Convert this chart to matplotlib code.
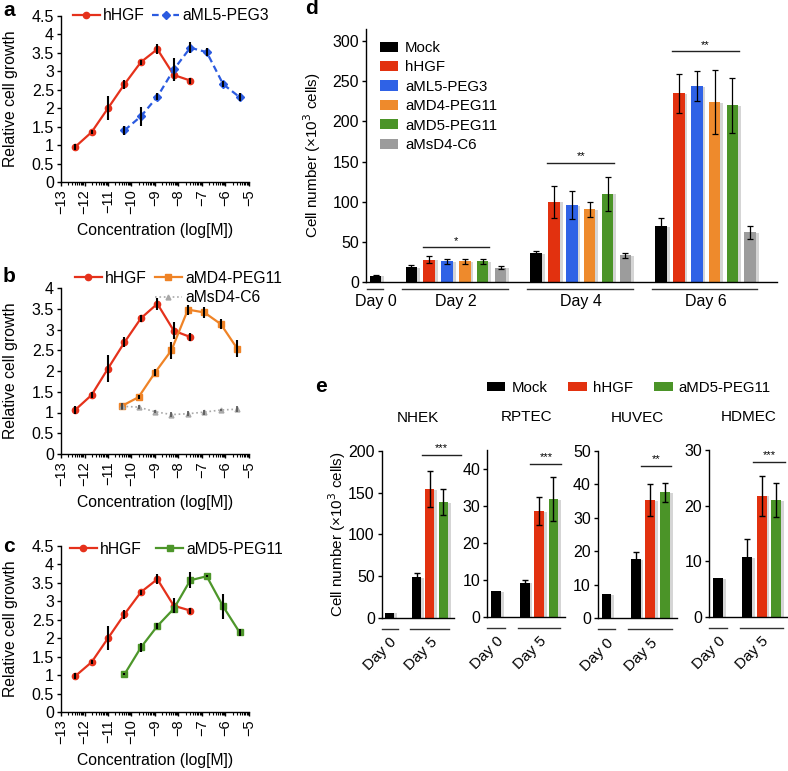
"""Dose-response curves (a-c) and cell counts (d, e)."""
import numpy as np
import matplotlib as mpl
import matplotlib.pyplot as plt
import matplotlib.patheffects as pe
import matplotlib.transforms as mtransforms
from matplotlib.lines import Line2D
from matplotlib.patches import Patch

mpl.rcParams['font.family'] = ['Liberation Sans', 'DejaVu Sans']
mpl.rcParams['axes.spines.top'] = False
mpl.rcParams['axes.spines.right'] = False
mpl.rcParams['axes.linewidth'] = 1.0
mpl.rcParams['xtick.major.width'] = 1.0
mpl.rcParams['ytick.major.width'] = 1.0

RED = '#e5311b'; BLUE = '#2b5be0'; ORANGE = '#ef8326'; GREEN = '#4d962a'; GREY = '#a8a8a8'
BAR_COLORS = ['#000000', '#e2310f', '#2f62e6', '#ee8a2c', '#4b9428', '#9c9c9c']

# ---- data: panels a-c (x = log[M]) ----
hgf_x = [-12.4, -11.7, -11.0, -10.3, -9.6, -8.9, -8.2, -7.5]
hgf_a = [0.95, 1.35, 2.0, 2.65, 3.25, 3.6, 2.9, 2.75]
hgf_a_err = [0.08, 0.06, 0.33, 0.12, 0.07, 0.13, 0.15, 0.08]
aml5_x = [-10.3, -9.6, -8.9, -8.2, -7.5, -6.8, -6.1, -5.4]
aml5_y = [1.4, 1.78, 2.31, 3.05, 3.64, 3.52, 2.65, 2.3]
aml5_err = [0.12, 0.25, 0.1, 0.3, 0.15, 0.1, 0.08, 0.1]

hgf_b = [1.06, 1.42, 2.06, 2.69, 3.27, 3.62, 2.97, 2.82]
hgf_b_err = [0.1, 0.07, 0.33, 0.12, 0.08, 0.15, 0.2, 0.1]
amd4_x = [-10.4, -9.7, -9.0, -8.3, -7.6, -6.9, -6.2, -5.5]
amd4_y = [1.16, 1.37, 1.96, 2.5, 3.48, 3.41, 3.13, 2.54]
amd4_err = [0.07, 0.05, 0.08, 0.2, 0.12, 0.13, 0.12, 0.2]
amsd4_y = [1.15, 1.13, 1.02, 0.95, 0.97, 1.01, 1.06, 1.08]
amsd4_err = [0.08, 0.05, 0.03, 0.07, 0.06, 0.06, 0.03, 0.07]

hgf_c = [0.97, 1.35, 2.0, 2.65, 3.25, 3.6, 2.88, 2.75]
hgf_c_err = [0.08, 0.06, 0.33, 0.12, 0.07, 0.13, 0.2, 0.08]
amd5_x = [-10.3, -9.6, -8.9, -8.2, -7.5, -6.8, -6.1, -5.4]
amd5_y = [1.02, 1.75, 2.33, 2.8, 3.57, 3.68, 2.86, 2.16]
amd5_err = [0.03, 0.12, 0.08, 0.12, 0.22, 0.03, 0.35, 0.1]

# ---- data: panel d ----
d_series = ['Mock', 'hHGF', 'aML5-PEG3', 'aMD4-PEG11', 'aMD5-PEG11', 'aMsD4-C6']
d_days = ['Day 0', 'Day 2', 'Day 4', 'Day 6']
d_vals = [[7.9],
          [18.7, 28, 25.7, 26, 26, 17.8],
          [35.7, 100, 95.9, 90.5, 110, 33.2],
          [69.7, 235, 244, 224, 220, 61.8]]
d_errs = [[1.0],
          [3, 4, 3, 3, 3, 2],
          [3.5, 20, 17.5, 9.5, 21, 3.5],
          [10.5, 24, 18.5, 40, 34, 8]]
d_sig = ['', '*', '**', '**']
d_sig_y = [0, 43, 148.5, 287]

# ---- data: panel e ----
e_cells = ['NHEK', 'RPTEC', 'HUVEC', 'HDMEC']
e_series = ['Mock', 'hHGF', 'aMD5-PEG11']
e_day0 = [6.0, 6.9, 7.2, 6.9]
e_day5 = [[48.4, 154.4, 138.8], [9.2, 28.5, 31.7], [17.7, 35.4, 37.6], [10.7, 21.8, 21.0]]
e_day5_err = [[5, 22, 16], [0.7, 3.8, 6], [2, 4.7, 2.8], [3.2, 3.6, 3.0]]
e_sig = ['***', '***', '**', '***']
e_sig_y = [195, 41.3, 45.5, 27.9]
e_sig_span = [(2.41, 5.34), (2.39, 4.55), (2.33, 4.42), (2.43, 4.57)]
e_ylim = [200, 45, 50, 30]
e_yticks = [[0, 50, 100, 150, 200], [0, 10, 20, 30, 40], [0, 10, 20, 30, 40, 50], [0, 10, 20, 30]]

W, H = 788, 771
fig = plt.figure(figsize=(W / 100, H / 100), dpi=100)


def box(l, t, r, b):
    return [l / W, 1 - b / H, (r - l) / W, (b - t) / H]


def figpt(x, y):
    return (x / W, 1 - y / H)


SHADOW = [pe.SimplePatchShadow(offset=(2, -0.5), shadow_rgbFace='#888888', alpha=0.35), pe.Normal()]
FS = 11.3   # text size in panels a-c

# ================= panels a-c =================
minor = [n + np.log10(k) for n in range(-13, -5) for k in range(2, 10)]


def curve_axes(rect, ymax, yticks, yticklabels):
    ax = fig.add_axes(rect)
    ax.set_xlim(-13, -5)
    ax.set_ylim(0, ymax)
    ax.set_xticks(range(-13, -4))
    ax.set_xticklabels([f'\u2212{abs(v)}' for v in range(-13, -4)], rotation=90)
    ax.set_xticks(minor, minor=True)
    ax.set_yticks(yticks)
    ax.set_yticklabels(yticklabels)
    ax.tick_params(axis='both', length=3, pad=2)
    ax.tick_params(axis='y', labelsize=11.5)
    ax.tick_params(axis='x', labelsize=10.5)
    ax.tick_params(axis='x', which='minor', length=2, width=0.8)
    ax.set_ylabel('Relative cell growth', fontsize=FS)
    ax.yaxis.set_label_coords(-0.23, 0.5)
    ax.set_xlabel('Concentration (log[M])', fontsize=FS)
    ax.xaxis.set_label_coords(0.5, -0.25)
    return ax


def series(ax, x, y, err, color, marker, ls='-', ms=4.5, lw=1.6):
    ax.plot(x, y, color=color, ls=ls, lw=lw, marker=marker, ms=ms, mec=color, mfc=color, zorder=2)
    ax.errorbar(x, y, yerr=err, fmt='none', ecolor='black', elinewidth=1.5, capsize=0, zorder=3)


def top_legend(ax, handles, labels, anchor, colsp, ncol=2):
    return ax.legend(handles, labels, ncol=ncol, loc='center left', bbox_to_anchor=figpt(*anchor),
                     bbox_transform=fig.transFigure, frameon=False, fontsize=FS, borderpad=0,
                     borderaxespad=0, handlelength=1.72, handletextpad=0.2, columnspacing=colsp)


ticks45 = [0, 0.5, 1, 1.5, 2, 2.5, 3, 3.5, 4, 4.5]
labels45 = ['0', '0.5', '1', '1.5', '2', '2.5', '3', '3.5', '4', '4.5']

# a
ax = curve_axes(box(61, 16, 249, 182), 4.5, ticks45, labels45)
series(ax, hgf_x, hgf_a, hgf_a_err, RED, 'o')
series(ax, aml5_x, aml5_y, aml5_err, BLUE, 'D', ls=(0, (3, 1.8)), ms=3.8)
h = [Line2D([], [], color=RED, marker='o', ms=4.5, lw=1.6),
     Line2D([], [], color=BLUE, marker='D', ms=3.8, lw=1.6, ls=(0, (3, 1.8)))]
top_legend(ax, h, ['hHGF', 'aML5-PEG3'], (73, 16), 0.45)
fig.text(*figpt(9, 11), 'a', fontsize=15, fontweight='bold', ha='center', va='center')

# b
ax = curve_axes(box(61, 288, 249, 454), 4.0, ticks45[:-1], labels45[:-1])
series(ax, hgf_x, hgf_b, hgf_b_err, RED, 'o')
series(ax, amd4_x, amd4_y, amd4_err, ORANGE, 's', ms=4)
ax.plot(amd4_x, amsd4_y, color=GREY, ls=':', lw=1.2, marker='^', ms=3.5, zorder=2)
ax.errorbar(amd4_x, amsd4_y, yerr=amsd4_err, fmt='none', ecolor='#555555', elinewidth=1.2, capsize=0, zorder=3)
h1 = [Line2D([], [], color=RED, marker='o', ms=4.5, lw=1.6),
      Line2D([], [], color=ORANGE, marker='s', ms=4, lw=1.6)]
leg = top_legend(ax, h1, ['hHGF', 'aMD4-PEG11'], (75, 278), 0.5)
ax.add_artist(leg)
h2 = [Line2D([], [], color=GREY, marker='^', ms=3.5, lw=1.2, ls=':')]
top_legend(ax, h2, ['aMsD4-C6'], (155, 298), 0.5, ncol=1)
fig.text(*figpt(9, 276), 'b', fontsize=15, fontweight='bold', ha='center', va='center')

# c
ax = curve_axes(box(61, 546, 249, 712), 4.5, ticks45, labels45)
series(ax, hgf_x, hgf_c, hgf_c_err, RED, 'o')
series(ax, amd5_x, amd5_y, amd5_err, GREEN, 's', ms=4)
h = [Line2D([], [], color=RED, marker='o', ms=4.5, lw=1.6),
     Line2D([], [], color=GREEN, marker='s', ms=4, lw=1.6)]
top_legend(ax, h, ['hHGF', 'aMD5-PEG11'], (70, 549), 0.9)
fig.text(*figpt(9, 547), 'c', fontsize=15, fontweight='bold', ha='center', va='center')

# ================= panel d =================
ax = fig.add_axes(box(366, 29, 777, 282))
starts = [0, 2, 9, 16]
bw = 0.65
for s, vals, errs, day, sig, sy in zip(starts, d_vals, d_errs, d_days, d_sig, d_sig_y):
    x = s + np.arange(len(vals))
    ax.bar(x, vals, width=bw, color=BAR_COLORS[:len(vals)], path_effects=SHADOW, zorder=2)
    ax.errorbar(x, vals, yerr=errs, fmt='none', ecolor='black', elinewidth=0.9, capsize=2,
                capthick=0.9, zorder=3)
    tr = mtransforms.blended_transform_factory(ax.transData, ax.transAxes)
    ax.plot([x[0] - 0.5, x[-1] + 0.4], [-0.028, -0.028], color='#333333', lw=1,
            transform=tr, clip_on=False)
    ax.text(x.mean(), -0.079, day, transform=tr, ha='center', va='center', fontsize=11.5)
    if sig:
        ax.plot([s + 1 - 0.37, s + 4 + 0.37], [sy, sy], color='#222222', lw=1)
        ax.text(s + 2.5, sy + 2, sig, ha='center', va='bottom', fontsize=8)
ax.set_xlim(-0.54, 22.5)
ax.set_ylim(0, 315)
ax.set_yticks(range(0, 301, 50))
ax.tick_params(axis='y', labelsize=11.5, length=3, pad=2)
ax.tick_params(axis='x', bottom=False, labelbottom=False)
ax.set_ylabel('Cell number (\u00d710$^3$ cells)', fontsize=11)
ax.yaxis.set_label_coords(-0.105, 0.5)
hd = [Patch(facecolor=c) for c in BAR_COLORS]
ax.legend(hd, d_series, loc='upper left', bbox_to_anchor=figpt(380, 41), bbox_transform=fig.transFigure,
          frameon=False, fontsize=10.8, borderpad=0, borderaxespad=0, handlelength=1.2,
          handleheight=0.68, handletextpad=0.46, labelspacing=0.36)
fig.text(*figpt(311, 9), 'd', fontsize=15, fontweight='bold', ha='center', va='center')

# ================= panel e =================
e_boxes = [(381.7, 451, 454, 617.7), (487.3, 450, 565, 616.7),
           (597.7, 451, 676.7, 618.3), (709.3, 450, 788, 616.7)]
ebw = 0.68
for i, (cell, b) in enumerate(zip(e_cells, e_boxes)):
    ax = fig.add_axes(box(*b))
    ax.bar([0], [e_day0[i]], width=ebw, color=BAR_COLORS[0], path_effects=SHADOW, zorder=2)
    x5 = 2 + np.arange(3)
    ax.bar(x5, e_day5[i], width=ebw, color=[BAR_COLORS[0], BAR_COLORS[1], BAR_COLORS[4]],
           path_effects=SHADOW, zorder=2)
    ax.errorbar(x5, e_day5[i], yerr=e_day5_err[i], fmt='none', ecolor='black', elinewidth=1,
                capsize=2, capthick=1, zorder=3)
    ax.set_xlim(-0.6, 4.8)
    ax.set_ylim(0, e_ylim[i])
    ax.set_yticks(e_yticks[i])
    ax.tick_params(axis='y', labelsize=11.5, length=3, pad=2)
    ax.tick_params(axis='x', bottom=False, labelbottom=False)
    tr = mtransforms.blended_transform_factory(ax.transData, ax.transAxes)
    ax.plot([-0.6, 0.6], [-0.066, -0.066], color='#333333', lw=1, transform=tr, clip_on=False)
    ax.plot([1.5, 4.45], [-0.066, -0.066], color='#333333', lw=1, transform=tr, clip_on=False)
    ax.text(0, -0.105, 'Day 0', transform=tr, rotation=45, ha='right', va='top',
            rotation_mode='anchor', fontsize=11)
    ax.text(3, -0.105, 'Day 5', transform=tr, rotation=45, ha='right', va='top',
            rotation_mode='anchor', fontsize=11)
    x0, x1 = e_sig_span[i]
    ax.plot([x0, x1], [e_sig_y[i], e_sig_y[i]], color='#222222', lw=1, clip_on=False)
    ax.text((x0 + x1) / 2, e_sig_y[i] + e_ylim[i] * 0.01, e_sig[i], ha='center', va='bottom',
            fontsize=8, clip_on=False)
    ax.text(0.5, 1.2, cell, transform=ax.transAxes, ha='center', va='center', fontsize=11)
    if i == 0:
        ax.set_ylabel('Cell number (\u00d710$^3$ cells)', fontsize=11)
        ax.yaxis.set_label_coords(-0.47, 0.5)
he = [Patch(facecolor=BAR_COLORS[j]) for j in (0, 1, 4)]
fig.legend(he, e_series, ncol=3, loc='center left', bbox_to_anchor=figpt(486.7, 388),
           frameon=False, fontsize=10.8, borderpad=0, borderaxespad=0, handlelength=1.25,
           handleheight=0.6, handletextpad=0.39, columnspacing=1.4)
fig.text(*figpt(321, 386), 'e', fontsize=15, fontweight='bold', ha='center', va='center')

fig.savefig('out.png', dpi=100)
